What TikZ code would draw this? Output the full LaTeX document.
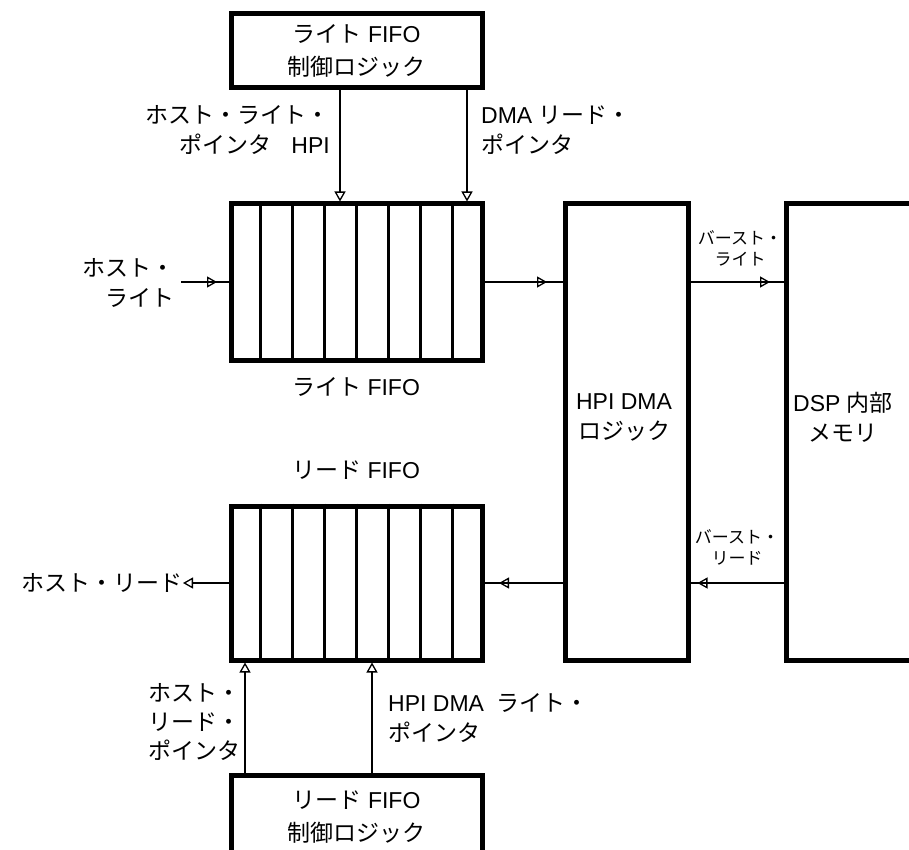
\documentclass[tikz,border=0pt]{standalone}
\usepackage{fontspec}
\setmainfont{Liberation Sans}
\newfontfamily\jpfont[Scale=1.0]{Noto Sans CJK JP}
\newcommand{\jpt}[1]{{\jpfont #1}}
\usetikzlibrary{arrows.meta,decorations.markings,calc}

\begin{document}
\begin{tikzpicture}[x=1pt,y=-1pt,
  box/.style={draw, line width=5pt, rectangle, inner sep=0pt, align=center, font=\fontsize{23}{33}\selectfont},
  lbl/.style={inner sep=0pt, font=\fontsize{23}{30}\selectfont},
  small/.style={inner sep=0pt, align=center, font=\fontsize{17}{21}\selectfont},
  conn/.style={line width=2pt},
  cell/.style={line width=2.05pt},
  thickcell/.style={line width=3pt},
  tipW/.tip={Triangle[open,length=10pt,width=11pt,line width=1.3pt]},
  marr/.style={postaction={decorate},decoration={markings,mark=at position #1 with {\arrow{tipW}}}},
]
\useasboundingbox (0,0) rectangle (909,850);

% boxes
\node[box, minimum width=251pt, minimum height=74pt] (ctlW) at (356.5,51) {\jpt{ライト} FIFO\\\jpt{制御ロジック}};
\node[box, minimum width=251pt, minimum height=156pt] (fifoW) at (356.5,282) {};
\node[box, minimum width=251pt, minimum height=154pt] (fifoR) at (356.5,583) {};
\node[box, minimum width=123pt, minimum height=456pt] (dma) at (626.5,432) {};
\node[box, minimum width=130pt, minimum height=456pt] (dsp) at (851,432) {};
\node[box, minimum width=251pt, minimum height=85pt] (ctlR) at (356.5,817.5) {\jpt{リード} FIFO\\\jpt{制御ロジック}};

% FIFO cells
\foreach \i in {1,2,4,5,6,7} {
  \draw[cell] ($(fifoW.north west)!\i/8!(fifoW.north east)$) -- ($(fifoW.south west)!\i/8!(fifoW.south east)$);
}
\draw[thickcell] ($(fifoW.north west)!3/8!(fifoW.north east)$) -- ($(fifoW.south west)!3/8!(fifoW.south east)$);
\foreach \i in {1,2,3,4,6,7} {
  \draw[cell] ($(fifoR.north west)!\i/8!(fifoR.north east)$) -- ($(fifoR.south west)!\i/8!(fifoR.south east)$);
}
\draw[thickcell] ($(fifoR.north west)!5/8!(fifoR.north east)$) -- ($(fifoR.south west)!5/8!(fifoR.south east)$);

% text nodes
\node[lbl] (dmaT) at (624,417) [align=center] {HPI DMA\\\jpt{ロジック}};
\node[lbl] (dspT) at (843,417) [align=center] {DSP \jpt{内部}\\\jpt{メモリ}};
\node[lbl, align=right, anchor=east] (lHWP) at (330,130) {\jpt{ホスト・ライト・}\\\jpt{ポインタ}\hspace{20pt}HPI};
\node[lbl, align=left, anchor=west] (lDRP) at (481,130) {DMA \jpt{リード・}\\\jpt{ポインタ}};
\node[lbl, align=right, anchor=east] (lHW) at (175,282.5) {\jpt{ホスト・}\\\jpt{ライト}};
\node[lbl] (lFW) at (356,387) {\jpt{ライト} FIFO};
\node[lbl] (lFR) at (356,470) {\jpt{リード} FIFO};
\node[small] (lBW) at (740,248) {\jpt{バースト・}\\\jpt{ライト}};
\node[small] (lBR) at (737,547.5) {\jpt{バースト・}\\\jpt{リード}};
\node[lbl, anchor=east] (lHR) at (183,583) {\jpt{ホスト・リード}};
\node[lbl, align=right, anchor=east, font=\fontsize{23}{29}\selectfont] (lHRP) at (241,722) {\jpt{ホスト・}\\\jpt{リード・}\\\jpt{ポインタ}};
\node[lbl, align=left, anchor=west] (lDWP) at (388,718) {HPI DMA\hspace{12pt}\jpt{ライト・}\\\jpt{ポインタ}};

% coordinates for connector columns
\coordinate (xa) at (340,0);
\coordinate (xb) at (467,0);
\coordinate (xc) at (245,0);
\coordinate (xd) at (372,0);
\coordinate (hwS) at (181,282);

% connectors
\draw[conn, -{tipW}] (ctlW.south -| xa) -- (fifoW.north -| xa);
\draw[conn, -{tipW}] (ctlW.south -| xb) -- (fifoW.north -| xb);
\draw[conn, marr=-11.5pt] (hwS) -- (fifoW.west);
\draw[conn, marr=-15.5pt] (fifoW.east) -- (dma.west |- fifoW.east);
\draw[conn, marr=-13.5pt] (dma.east |- fifoW.east) -- (dsp.west |- fifoW.east);
\draw[conn, marr=-7pt] (dsp.west |- fifoR.east) -- (dma.east |- fifoR.east);
\draw[conn, marr=-14.5pt] (dma.west |- fifoR.east) -- (fifoR.east);
\draw[conn, -{tipW}] (fifoR.west) -- (lHR.east);
\draw[conn, -{tipW}] (ctlR.north -| xc) -- (fifoR.south -| xc);
\draw[conn, -{tipW}] (ctlR.north -| xd) -- (fifoR.south -| xd);
\end{tikzpicture}
\end{document}
